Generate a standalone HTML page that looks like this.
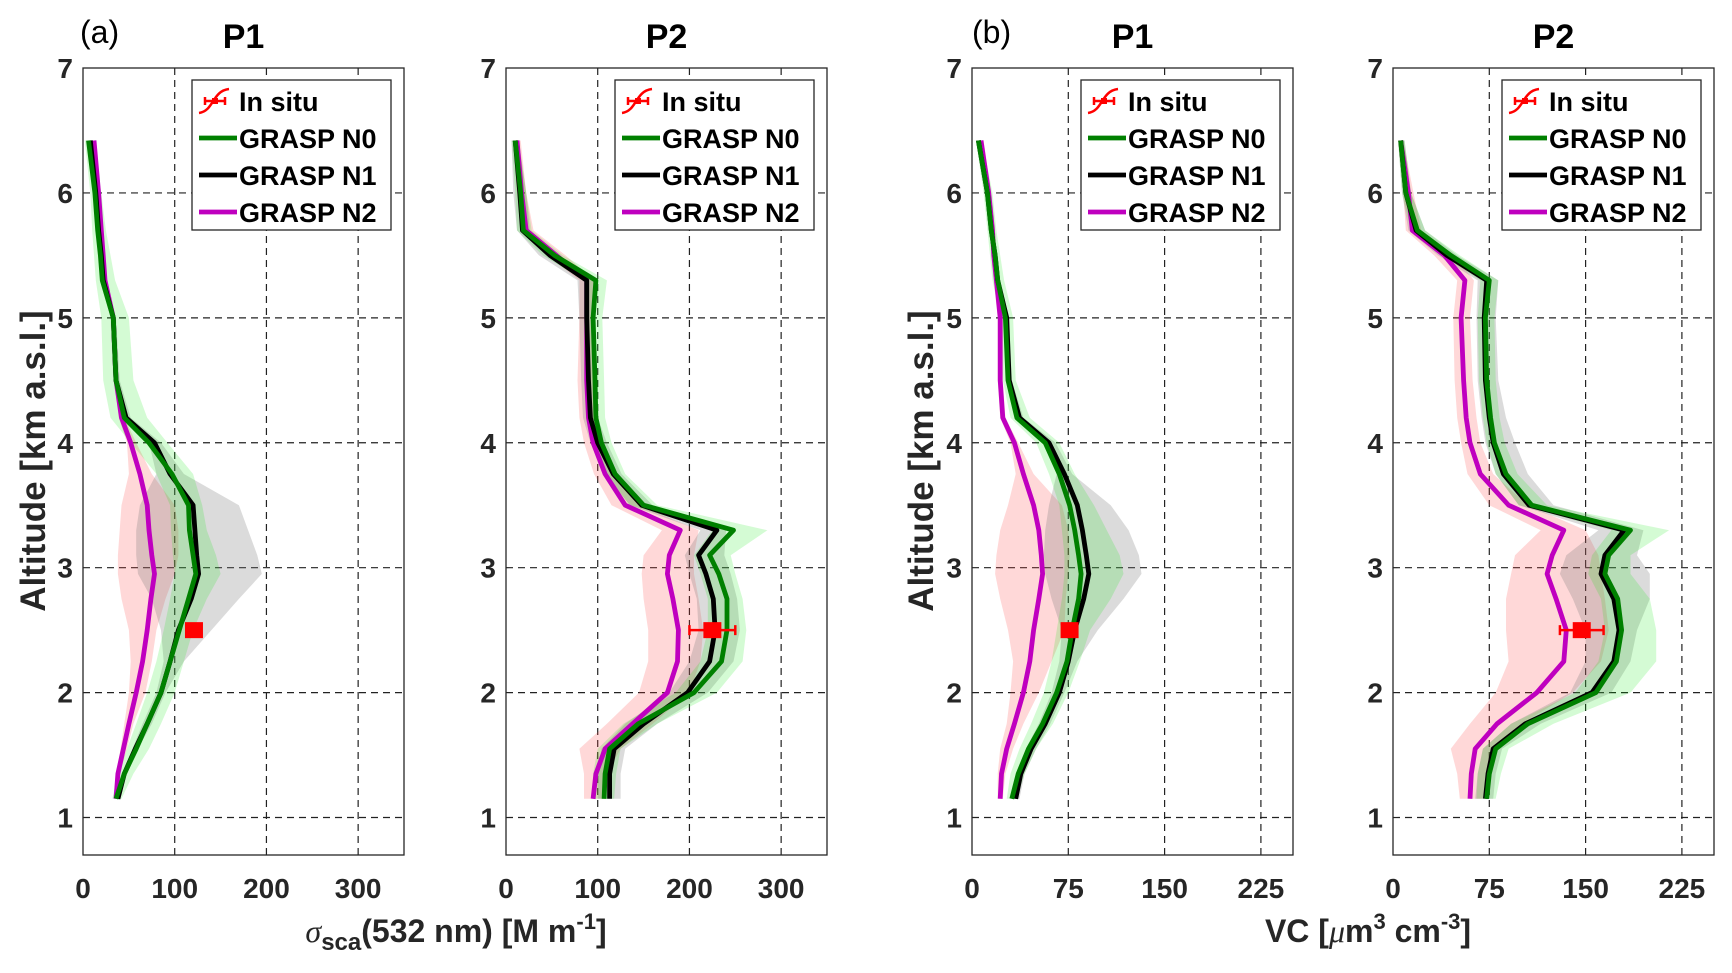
<!DOCTYPE html>
<html><head><meta charset="utf-8">
<style>
html,body{margin:0;padding:0;background:#fff;}
svg{display:block;font-family:"Liberation Sans",Arial,sans-serif;}
</style></head>
<body>
<svg id="fig" width="1732" height="973" viewBox="0 0 1732 973" xmlns="http://www.w3.org/2000/svg">
<text x="80" y="43" font-size="32" fill="#000">(a)</text>
<text x="972" y="43" font-size="32" fill="#000">(b)</text>
<text transform="translate(45,461) rotate(-90)" text-anchor="middle" font-size="35" font-weight="bold" fill="#262626">Altitude [km a.s.l.]</text>
<text transform="translate(933,461) rotate(-90)" text-anchor="middle" font-size="35" font-weight="bold" fill="#262626">Altitude [km a.s.l.]</text>
<text x="456" y="942" text-anchor="middle" font-size="32" font-weight="bold" fill="#262626"><tspan font-family="Liberation Serif,serif" font-style="italic" font-weight="normal">σ</tspan><tspan dy="8" font-size="24">sca</tspan><tspan dy="-8">(532 nm) [M m</tspan><tspan dy="-13" font-size="22">-1</tspan><tspan dy="13">]</tspan></text>
<text x="1368" y="942" text-anchor="middle" font-size="32" font-weight="bold" fill="#262626">VC [<tspan font-family="Liberation Serif,serif" font-style="italic" font-weight="normal">μ</tspan>m<tspan dy="-13" font-size="22">3</tspan><tspan dy="13"> cm</tspan><tspan dy="-13" font-size="22">-3</tspan><tspan dy="13">]</tspan></text>
</svg>
<script>
const alts = [6.42,6.0,5.7,5.5,5.3,5.0,4.5,4.2,4.0,3.75,3.5,3.3,3.1,2.95,2.75,2.5,2.25,2.0,1.75,1.55,1.35,1.15];
const yTicks = [1,2,3,4,5,6,7];
const xTicksSca = [0,100,200,300];
const xTicksVC = [0,75,150,225];
const panelTitles = ["P1","P2","P1","P2"];

// Panel 1 (scattering P1)
const p1N0 = [6,13,16,19,21,33,36,45,72,97,115,116,120,123,115,105,95,85,70,58,45,36];
const p1N0lo = [2,8,10,12,14,20,22,30,52,80,95,96,98,100,95,88,80,70,58,48,38,32];
const p1N0hi = [10,20,25,30,35,50,55,70,92,120,130,135,145,150,135,120,110,100,85,72,55,42];
const p1N1 = [8,14,17,20,22,33,36,47,78,95,120,122,124,126,118,104,95,85,70,57,45,38];
const p1N1lo = [5,11,14,17,19,30,33,44,72,80,62,58,58,60,75,85,88,80,65,54,42,35];
const p1N1hi = [11,17,20,23,25,36,40,52,85,110,170,180,190,195,170,140,110,90,75,60,48,40];
const p1N2 = [12,17,20,22,24,33,36,42,52,62,70,72,75,78,74,70,65,58,50,44,38,36];
const p1N2lo = [10,15,18,20,22,31,34,39,48,50,42,40,38,38,42,50,52,50,45,41,36,34];
const p1N2hi = [14,19,22,24,26,35,38,45,58,75,100,104,104,100,90,80,75,68,55,48,40,38];
const p1Insitu = [121,2.5,0];

// Panel 2 (scattering P2)
const p2N0 = [10,16,19,53,98,95,97,98,104,119,150,248,222,232,241,241,235,205,144,113,108,107];
const p2N0lo = [6,10,12,40,85,85,87,88,94,108,135,225,205,212,220,220,212,185,128,100,95,95];
const p2N0hi = [14,22,28,62,110,105,107,108,115,130,165,285,245,250,258,262,258,230,165,125,120,118];
const p2N1 = [10,15,18,48,88,88,90,92,100,117,148,230,210,218,226,228,222,198,150,118,113,113];
const p2N1lo = [6,8,12,36,78,80,82,84,92,108,135,212,195,200,208,210,200,178,130,104,100,100];
const p2N1hi = [14,22,26,58,98,96,98,100,110,126,160,240,238,245,252,255,248,220,165,130,125,125];
const p2N2 = [12,17,22,55,88,88,88,90,95,108,130,190,178,176,182,188,187,176,138,108,98,95];
const p2N2lo = [8,12,16,45,80,80,78,80,85,96,115,170,150,148,150,155,155,145,110,80,85,85];
const p2N2hi = [16,22,30,65,96,96,96,100,104,118,145,210,205,205,210,215,212,200,160,125,110,105];
const p2Insitu = [225,2.5,25];

// Panel 3 (VC P1)
const p3N0 = [5,12,15,18,20,26,28,35,57,68,76,80,83,85,83,78,74,66,55,44,36,31];
const p3N0lo = [3,9,12,14,16,22,24,30,50,60,68,70,72,72,70,66,62,56,46,37,30,27];
const p3N0hi = [8,16,19,22,25,32,34,45,68,80,95,105,115,118,108,92,84,75,63,50,41,35];
const p3N1 = [5,12,15,18,20,27,29,37,60,72,82,86,89,91,87,80,75,68,57,46,38,34];
const p3N1lo = [3,10,13,16,18,25,27,34,56,66,60,57,56,57,62,70,68,62,52,42,35,31];
const p3N1hi = [7,14,17,20,22,29,31,40,65,78,108,122,130,132,118,98,82,72,61,50,41,37];
const p3N2 = [7,13,16,17,19,22,22,24,33,40,48,52,54,55,52,48,45,40,33,27,23,22];
const p3N2lo = [5,11,14,15,17,20,20,22,30,34,28,22,19,18,22,28,32,30,27,22,20,20];
const p3N2hi = [9,15,18,19,21,24,24,26,36,48,70,75,76,75,73,72,62,52,40,32,26,24];
const p3Insitu = [76,2.5,3];

// Panel 4 (VC P2)
const p4N0 = [6,10,19,45,75,72,73,76,79,88,108,185,168,165,175,178,174,158,105,80,75,73];
const p4N0lo = [4,7,14,38,68,66,67,70,73,80,98,170,155,152,162,165,160,142,92,70,66,65];
const p4N0hi = [9,14,25,52,82,79,80,83,87,97,120,215,185,185,200,205,205,185,125,90,84,80];
const p4N1 = [6,10,18,42,73,71,72,75,78,86,106,180,165,162,172,176,172,155,103,78,74,72];
const p4N1lo = [4,7,12,35,66,65,66,69,72,80,98,160,135,130,140,150,150,138,92,70,66,64];
const p4N1hi = [9,14,25,50,82,80,82,88,95,105,125,195,190,200,200,190,185,170,115,85,80,78];
const p4N2 = [6,12,15,40,56,53,55,57,60,68,90,133,124,120,127,135,133,112,81,64,61,60];
const p4N2lo = [4,8,10,32,50,47,48,50,53,58,75,115,95,92,88,88,90,80,60,45,50,52];
const p4N2hi = [8,16,22,48,63,60,62,65,68,78,105,150,160,162,165,168,162,140,100,80,72,70];
const p4Insitu = [147,2.5,17];

const NS = "http://www.w3.org/2000/svg";
const svg = document.getElementById('fig');
function mk(tag, attrs, parent){
  const e = document.createElementNS(NS, tag);
  for (const k in attrs) e.setAttribute(k, attrs[k]);
  (parent||svg).appendChild(e);
  return e;
}

const panels = [
  {left:83, xmax:350, ticks:xTicksSca, title:panelTitles[0], s:[[p1N0,p1N0lo,p1N0hi],[p1N1,p1N1lo,p1N1hi],[p1N2,p1N2lo,p1N2hi]], ins:p1Insitu, nm:'p1-scattering'},
  {left:506, xmax:350, ticks:xTicksSca, title:panelTitles[1], s:[[p2N0,p2N0lo,p2N0hi],[p2N1,p2N1lo,p2N1hi],[p2N2,p2N2lo,p2N2hi]], ins:p2Insitu, nm:'p2-scattering'},
  {left:972, xmax:250, ticks:xTicksVC, title:panelTitles[2], s:[[p3N0,p3N0lo,p3N0hi],[p3N1,p3N1lo,p3N1hi],[p3N2,p3N2lo,p3N2hi]], ins:p3Insitu, nm:'p1-volume'},
  {left:1393, xmax:250, ticks:xTicksVC, title:panelTitles[3], s:[[p4N0,p4N0lo,p4N0hi],[p4N1,p4N1lo,p4N1hi],[p4N2,p4N2lo,p4N2hi]], ins:p4Insitu, nm:'p2-volume'}
];
const W = 321, TOP = 68, BOT = 855, YMIN = 0.7, YMAX = 7;
const lineCols = ['#008000','#000000','#bf00bf'];
const bandCols = ['rgba(0,230,0,0.17)','rgba(110,110,110,0.25)','rgba(255,60,60,0.2)'];
const names = ['n0','n1','n2'];

panels.forEach((p)=>{
  const xs = v => p.left + v / p.xmax * W;
  const ys = a => BOT - (a - YMIN) / (YMAX - YMIN) * (BOT - TOP);
  const g = mk('g', {});
  
  
  p.ticks.forEach(t=>{
    if (t>0){
      const l = mk('line',{x1:xs(t),x2:xs(t),y1:TOP,y2:BOT,stroke:'#222','stroke-width':1.2,'stroke-dasharray':'7,5'},g);
      
      
    }
    const tx = mk('text',{x:xs(t),y:898,'text-anchor':'middle','font-size':28,'font-weight':'bold',fill:'#262626'},g);
    tx.textContent = t;
    
    
  });
  yTicks.forEach(t=>{
    if (t<7){
      const l = mk('line',{x1:p.left,x2:p.left+W,y1:ys(t),y2:ys(t),stroke:'#222','stroke-width':1.2,'stroke-dasharray':'7,5'},g);
      
      
    }
    const tx = mk('text',{x:p.left-10,y:ys(t)+10,'text-anchor':'end','font-size':28,'font-weight':'bold',fill:'#262626'},g);
    tx.textContent = t;
    
    
  });
  [2,1,0].forEach(i=>{
    const [v,lo,hi] = p.s[i];
    let d = 'M' + alts.map((a,j)=>xs(hi[j]).toFixed(1)+','+ys(a).toFixed(1)).join(' L');
    d += ' L' + alts.slice().reverse().map((a,j)=>{const k=alts.length-1-j;return xs(lo[k]).toFixed(1)+','+ys(a).toFixed(1);}).join(' L') + ' Z';
    const b = mk('path',{d:d,fill:bandCols[i],stroke:'none'},g);
    
    
  });
  [2,1,0].forEach(i=>{
    const v = p.s[i][0];
    const pts = alts.map((a,j)=>xs(v[j]).toFixed(1)+','+ys(a).toFixed(1)).join(' ');
    const l = mk('polyline',{points:pts,fill:'none',stroke:lineCols[i],'stroke-width':4.8,'stroke-linejoin':'round'},g);
    
    
  });
  const [iv,ia,ie] = p.ins;
  if (ie>0){
    const e = mk('g',{stroke:'#ff0000','stroke-width':2.5},g);
    
    
    mk('line',{x1:xs(iv-ie),x2:xs(iv+ie),y1:ys(ia),y2:ys(ia)},e);
    mk('line',{x1:xs(iv-ie),x2:xs(iv-ie),y1:ys(ia)-5,y2:ys(ia)+5},e);
    mk('line',{x1:xs(iv+ie),x2:xs(iv+ie),y1:ys(ia)-5,y2:ys(ia)+5},e);
  }
  const m = mk('rect',{x:xs(iv)-9,y:ys(ia)-8,width:18,height:16,fill:'#ff0000'},g);
  
  
  const bx = mk('rect',{x:p.left,y:TOP,width:W,height:BOT-TOP,fill:'none',stroke:'#262626','stroke-width':1.3},g);
  
  
  const tt = mk('text',{x:p.left+W/2,y:48,'text-anchor':'middle','font-size':34,'font-weight':'bold',fill:'#000'},g);
  tt.textContent = p.title;
  
  
  const lg = mk('g',{},g);
  
  
  const lx = p.left + W - 13 - 199;
  mk('rect',{x:lx,y:80,width:199,height:150,fill:'#fff',stroke:'#262626','stroke-width':1.3},lg);
  const labels = ['In situ','GRASP N0','GRASP N1','GRASP N2'];
  labels.forEach((lab,k)=>{
    const cy = 101 + k*37;
    const ent = mk('g',{},lg);
    
    
    if (k===0){
      mk('path',{d:`M${lx+7},${cy+12} C${lx+22},${cy+10} ${lx+20},${cy-10} ${lx+37},${cy-12}`,fill:'none',stroke:'#ff0000','stroke-width':2.5},ent);
      mk('line',{x1:lx+13,x2:lx+33,y1:cy,y2:cy,stroke:'#ff0000','stroke-width':2.5},ent);
      mk('line',{x1:lx+13,x2:lx+13,y1:cy-4,y2:cy+4,stroke:'#ff0000','stroke-width':2.5},ent);
      mk('line',{x1:lx+33,x2:lx+33,y1:cy-4,y2:cy+4,stroke:'#ff0000','stroke-width':2.5},ent);
      mk('rect',{x:lx+20,y:cy-3,width:6,height:6,fill:'#ff0000'},ent);
    } else {
      mk('line',{x1:lx+7,x2:lx+45,y1:cy,y2:cy,stroke:lineCols[k-1],'stroke-width':4.8},ent);
    }
    const t = mk('text',{x:lx+47,y:cy+10,'font-size':27,'font-weight':'bold',fill:'#000'},ent);
    t.textContent = lab;
  });
});
</script>
</body></html>
